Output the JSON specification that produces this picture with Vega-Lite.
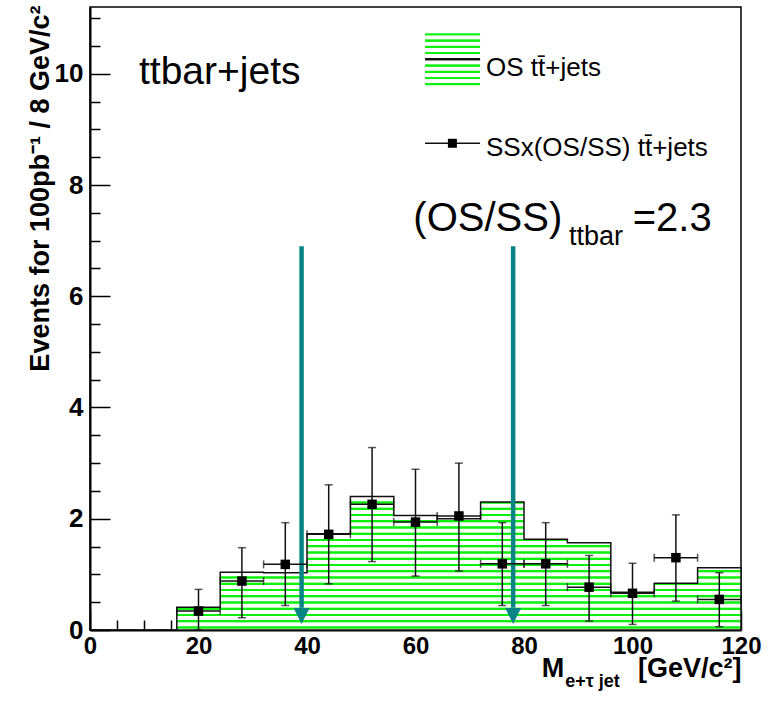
{
  "$schema": "https://vega.github.io/schema/vega-lite/v6.json",
  "width": 651,
  "height": 623,
  "autosize": {"type": "none"},
  "padding": {"left": 90, "top": 7, "right": 32, "bottom": 71},
  "background": "#ffffff",
  "config": {
    "view": {"stroke": "#000000", "strokeWidth": 1.5},
    "text": {"font": "Liberation Sans", "color": "#000000"}
  },
  "datasets": {
    "hist": [
      {"m": 16, "v": 0.41}, {"m": 24, "v": 1.04}, {"m": 32, "v": 1.03}, {"m": 40, "v": 1.73},
      {"m": 48, "v": 2.40}, {"m": 56, "v": 2.06}, {"m": 64, "v": 2.0}, {"m": 72, "v": 2.30},
      {"m": 80, "v": 1.63}, {"m": 88, "v": 1.57}, {"m": 96, "v": 0.68}, {"m": 104, "v": 0.84},
      {"m": 112, "v": 1.12}, {"m": 120, "v": 1.12}
    ],
    "pts": [
      {"m": 20, "xlo": 16, "xhi": 24, "n": 0.34, "lo": 0.0, "hi": 0.73},
      {"m": 28, "xlo": 24, "xhi": 32, "n": 0.88, "lo": 0.22, "hi": 1.48},
      {"m": 36, "xlo": 32, "xhi": 40, "n": 1.18, "lo": 0.44, "hi": 1.93},
      {"m": 44, "xlo": 40, "xhi": 48, "n": 1.72, "lo": 0.83, "hi": 2.61},
      {"m": 52, "xlo": 48, "xhi": 56, "n": 2.26, "lo": 1.23, "hi": 3.28},
      {"m": 60, "xlo": 56, "xhi": 64, "n": 1.94, "lo": 0.97, "hi": 2.89},
      {"m": 68, "xlo": 64, "xhi": 72, "n": 2.05, "lo": 1.06, "hi": 3.0},
      {"m": 76, "xlo": 72, "xhi": 80, "n": 1.19, "lo": 0.44, "hi": 1.93},
      {"m": 84, "xlo": 80, "xhi": 88, "n": 1.19, "lo": 0.44, "hi": 1.93},
      {"m": 92, "xlo": 88, "xhi": 96, "n": 0.77, "lo": 0.16, "hi": 1.34},
      {"m": 100, "xlo": 96, "xhi": 104, "n": 0.66, "lo": 0.10, "hi": 1.20},
      {"m": 108, "xlo": 104, "xhi": 112, "n": 1.30, "lo": 0.52, "hi": 2.07},
      {"m": 116, "xlo": 112, "xhi": 120, "n": 0.55, "lo": 0.06, "hi": 1.03}
    ],
    "arrows": [
      {"m": 39, "top": 6.9},
      {"m": 78, "top": 6.9}
    ]
  },
  "resolve": {"axis": {"x": "independent", "y": "independent"}},
  "layer": [
    {
      "data": {"name": "hist"},
      "mark": {
        "type": "area",
        "interpolate": "step-after",
        "stroke": "#111111",
        "strokeWidth": 1.5,
        "fill": {
          "gradient": "linear", "x1": 0, "y1": 0, "x2": 0, "y2": 1,
          "stops": [
            {"offset": 0, "color": "#ffffff"},
            {"offset": 0.03394, "color": "#ffffff"}, {"offset": 0.03844, "color": "#10f010"}, {"offset": 0.05144, "color": "#10f010"}, {"offset": 0.05594, "color": "#ffffff"},
            {"offset": 0.08076, "color": "#ffffff"}, {"offset": 0.08526, "color": "#10f010"}, {"offset": 0.09826, "color": "#10f010"}, {"offset": 0.10276, "color": "#ffffff"},
            {"offset": 0.12758, "color": "#ffffff"}, {"offset": 0.13208, "color": "#10f010"}, {"offset": 0.14508, "color": "#10f010"}, {"offset": 0.14958, "color": "#ffffff"},
            {"offset": 0.17439, "color": "#ffffff"}, {"offset": 0.17889, "color": "#10f010"}, {"offset": 0.19189, "color": "#10f010"}, {"offset": 0.19639, "color": "#ffffff"},
            {"offset": 0.22121, "color": "#ffffff"}, {"offset": 0.22571, "color": "#10f010"}, {"offset": 0.23871, "color": "#10f010"}, {"offset": 0.24321, "color": "#ffffff"},
            {"offset": 0.26803, "color": "#ffffff"}, {"offset": 0.27253, "color": "#10f010"}, {"offset": 0.28553, "color": "#10f010"}, {"offset": 0.29003, "color": "#ffffff"},
            {"offset": 0.31484, "color": "#ffffff"}, {"offset": 0.31934, "color": "#10f010"}, {"offset": 0.33234, "color": "#10f010"}, {"offset": 0.33684, "color": "#ffffff"},
            {"offset": 0.36166, "color": "#ffffff"}, {"offset": 0.36616, "color": "#10f010"}, {"offset": 0.37916, "color": "#10f010"}, {"offset": 0.38366, "color": "#ffffff"},
            {"offset": 0.40848, "color": "#ffffff"}, {"offset": 0.41298, "color": "#10f010"}, {"offset": 0.42598, "color": "#10f010"}, {"offset": 0.43048, "color": "#ffffff"},
            {"offset": 0.45529, "color": "#ffffff"}, {"offset": 0.45979, "color": "#10f010"}, {"offset": 0.47279, "color": "#10f010"}, {"offset": 0.47729, "color": "#ffffff"},
            {"offset": 0.50211, "color": "#ffffff"}, {"offset": 0.50661, "color": "#10f010"}, {"offset": 0.51961, "color": "#10f010"}, {"offset": 0.52411, "color": "#ffffff"},
            {"offset": 0.54893, "color": "#ffffff"}, {"offset": 0.55343, "color": "#10f010"}, {"offset": 0.56643, "color": "#10f010"}, {"offset": 0.57093, "color": "#ffffff"},
            {"offset": 0.59574, "color": "#ffffff"}, {"offset": 0.60024, "color": "#10f010"}, {"offset": 0.61324, "color": "#10f010"}, {"offset": 0.61774, "color": "#ffffff"},
            {"offset": 0.64256, "color": "#ffffff"}, {"offset": 0.64706, "color": "#10f010"}, {"offset": 0.66006, "color": "#10f010"}, {"offset": 0.66456, "color": "#ffffff"},
            {"offset": 0.68937, "color": "#ffffff"}, {"offset": 0.69387, "color": "#10f010"}, {"offset": 0.70687, "color": "#10f010"}, {"offset": 0.71137, "color": "#ffffff"},
            {"offset": 0.73619, "color": "#ffffff"}, {"offset": 0.74069, "color": "#10f010"}, {"offset": 0.75369, "color": "#10f010"}, {"offset": 0.75819, "color": "#ffffff"},
            {"offset": 0.78301, "color": "#ffffff"}, {"offset": 0.78751, "color": "#10f010"}, {"offset": 0.80051, "color": "#10f010"}, {"offset": 0.80501, "color": "#ffffff"},
            {"offset": 0.82982, "color": "#ffffff"}, {"offset": 0.83432, "color": "#10f010"}, {"offset": 0.84732, "color": "#10f010"}, {"offset": 0.85182, "color": "#ffffff"},
            {"offset": 0.87664, "color": "#ffffff"}, {"offset": 0.88114, "color": "#10f010"}, {"offset": 0.89414, "color": "#10f010"}, {"offset": 0.89864, "color": "#ffffff"},
            {"offset": 0.92346, "color": "#ffffff"}, {"offset": 0.92796, "color": "#10f010"}, {"offset": 0.94096, "color": "#10f010"}, {"offset": 0.94546, "color": "#ffffff"},
            {"offset": 0.97027, "color": "#ffffff"}, {"offset": 0.97477, "color": "#10f010"}, {"offset": 0.98777, "color": "#10f010"}, {"offset": 0.99227, "color": "#ffffff"},
            {"offset": 1, "color": "#ffffff"}
          ]
        }
      },
      "encoding": {
        "x": {
          "field": "m", "type": "quantitative",
          "scale": {"domain": [0, 120], "nice": false, "zero": false},
          "axis": {
            "orient": "bottom", "values": [0, 20, 40, 60, 80, 100, 120], "format": "d",
            "tickSize": -19, "tickWidth": 1.5, "tickColor": "#000000",
            "domainColor": "#000000", "domainWidth": 2,
            "labelFont": "Liberation Sans", "labelFontWeight": "bold", "labelFontSize": 24,
            "labelColor": "#000000", "labelPadding": 23, "labelFlush": false, "labelOverlap": false,
            "grid": false, "title": null
          }
        },
        "y": {
          "field": "v", "type": "quantitative",
          "scale": {"domain": [0, 11.2], "nice": false, "zero": false},
          "axis": {
            "orient": "left", "values": [0, 2, 4, 6, 8, 10], "format": "d",
            "tickSize": -20, "tickWidth": 1.5, "tickColor": "#000000",
            "domainColor": "#000000", "domainWidth": 2,
            "labelFont": "Liberation Sans", "labelFontWeight": "bold", "labelFontSize": 26,
            "labelColor": "#000000", "labelPadding": 27, "labelFlush": false, "labelOverlap": false,
            "grid": false,
            "title": "Events for 100pb⁻¹ / 8 GeV/c²",
            "titleFont": "Liberation Sans", "titleFontWeight": "bold", "titleFontSize": 27,
            "titleColor": "#000000", "titleAngle": 270, "titleAlign": "right",
            "titleBaseline": "alphabetic", "titleX": -42, "titleY": -2
          }
        }
      }
    },
    {
      "data": {"name": "arrows"},
      "mark": {"type": "rule", "color": "#088484", "strokeWidth": 4.5},
      "encoding": {
        "x": {
          "field": "m", "type": "quantitative",
          "axis": {
            "orient": "bottom",
            "values": [5, 10, 15, 25, 30, 35, 45, 50, 55, 65, 70, 75, 85, 90, 95, 105, 110, 115],
            "tickSize": -10, "tickWidth": 1.5, "tickColor": "#000000",
            "labels": false, "domain": false, "grid": false, "title": null
          }
        },
        "y": {
          "field": "top", "type": "quantitative",
          "axis": {
            "orient": "left",
            "values": [0.5, 1, 1.5, 2.5, 3, 3.5, 4.5, 5, 5.5, 6.5, 7, 7.5, 8.5, 9, 9.5, 10.5, 11],
            "tickSize": -10, "tickWidth": 1.5, "tickColor": "#000000",
            "labels": false, "domain": false, "grid": false, "title": null
          }
        },
        "y2": {"datum": 0.4}
      }
    },
    {
      "data": {"name": "arrows"},
      "mark": {"type": "point", "shape": "M-1,-1L1,-1L0,1Z", "filled": true, "color": "#088484", "size": 256, "opacity": 1},
      "encoding": {
        "x": {"field": "m", "type": "quantitative", "axis": null},
        "y": {"datum": 0.25, "type": "quantitative", "axis": null}
      }
    },
    {
      "data": {"name": "pts"},
      "mark": {"type": "rule", "color": "#111111", "strokeWidth": 1.5},
      "encoding": {
        "x": {"field": "m", "type": "quantitative", "axis": null},
        "y": {"field": "lo", "type": "quantitative", "axis": null},
        "y2": {"field": "hi"}
      }
    },
    {
      "data": {"name": "pts"},
      "mark": {"type": "rule", "color": "#111111", "strokeWidth": 1.5},
      "encoding": {
        "x": {"field": "xlo", "type": "quantitative", "axis": null},
        "x2": {"field": "xhi"},
        "y": {"field": "n", "type": "quantitative", "axis": null}
      }
    },
    {
      "data": {"name": "pts"},
      "mark": {"type": "tick", "orient": "horizontal", "color": "#111111", "thickness": 1.5, "size": 8},
      "encoding": {
        "x": {"field": "m", "type": "quantitative", "axis": null},
        "y": {"field": "hi", "type": "quantitative", "axis": null}
      }
    },
    {
      "data": {"name": "pts"},
      "mark": {"type": "tick", "orient": "horizontal", "color": "#111111", "thickness": 1.5, "size": 8},
      "encoding": {
        "x": {"field": "m", "type": "quantitative", "axis": null},
        "y": {"field": "lo", "type": "quantitative", "axis": null}
      }
    },
    {
      "data": {"name": "pts"},
      "mark": {"type": "tick", "orient": "vertical", "color": "#111111", "thickness": 1.5, "size": 8},
      "encoding": {
        "x": {"field": "xlo", "type": "quantitative", "axis": null},
        "y": {"field": "n", "type": "quantitative", "axis": null}
      }
    },
    {
      "data": {"name": "pts"},
      "mark": {"type": "tick", "orient": "vertical", "color": "#111111", "thickness": 1.5, "size": 8},
      "encoding": {
        "x": {"field": "xhi", "type": "quantitative", "axis": null},
        "y": {"field": "n", "type": "quantitative", "axis": null}
      }
    },
    {
      "data": {"name": "pts"},
      "mark": {"type": "point", "shape": "square", "filled": true, "color": "#000000", "size": 90, "opacity": 1},
      "encoding": {
        "x": {"field": "m", "type": "quantitative", "axis": null},
        "y": {"field": "n", "type": "quantitative", "axis": null}
      }
    },
    {
      "data": {"values": [{}]},
      "mark": {
        "type": "rect",
        "fill": {
          "gradient": "linear", "x1": 0, "y1": 0, "x2": 0, "y2": 1,
          "stops": [
            {"offset": 0, "color": "#10f010"}, {"offset": 0.0362, "color": "#10f010"}, {"offset": 0.0472, "color": "#ffffff"},
            {"offset": 0.1114, "color": "#ffffff"}, {"offset": 0.1224, "color": "#10f010"}, {"offset": 0.1564, "color": "#10f010"}, {"offset": 0.1674, "color": "#ffffff"},
            {"offset": 0.2316, "color": "#ffffff"}, {"offset": 0.2426, "color": "#10f010"}, {"offset": 0.2766, "color": "#10f010"}, {"offset": 0.2876, "color": "#ffffff"},
            {"offset": 0.3518, "color": "#ffffff"}, {"offset": 0.3628, "color": "#10f010"}, {"offset": 0.3968, "color": "#10f010"}, {"offset": 0.4078, "color": "#ffffff"},
            {"offset": 0.472, "color": "#ffffff"}, {"offset": 0.483, "color": "#111111"}, {"offset": 0.517, "color": "#111111"}, {"offset": 0.528, "color": "#ffffff"},
            {"offset": 0.5922, "color": "#ffffff"}, {"offset": 0.6032, "color": "#10f010"}, {"offset": 0.6372, "color": "#10f010"}, {"offset": 0.6482, "color": "#ffffff"},
            {"offset": 0.7124, "color": "#ffffff"}, {"offset": 0.7234, "color": "#10f010"}, {"offset": 0.7574, "color": "#10f010"}, {"offset": 0.7684, "color": "#ffffff"},
            {"offset": 0.8326, "color": "#ffffff"}, {"offset": 0.8436, "color": "#10f010"}, {"offset": 0.8776, "color": "#10f010"}, {"offset": 0.8886, "color": "#ffffff"},
            {"offset": 0.9528, "color": "#ffffff"}, {"offset": 0.9638, "color": "#10f010"}, {"offset": 1, "color": "#10f010"}
          ]
        }
      },
      "encoding": {
        "x": {"datum": 61.75, "type": "quantitative", "axis": null},
        "x2": {"datum": 71.9},
        "y": {"datum": 10.727, "type": "quantitative", "axis": null},
        "y2": {"datum": 9.792}
      }
    },
    {
      "data": {"values": [{}]},
      "mark": {"type": "rule", "color": "#111111", "strokeWidth": 1.5},
      "encoding": {
        "x": {"datum": 61.75, "type": "quantitative", "axis": null},
        "x2": {"datum": 71.9},
        "y": {"datum": 8.75, "type": "quantitative", "axis": null}
      }
    },
    {
      "data": {"values": [{}]},
      "mark": {"type": "point", "shape": "square", "filled": true, "color": "#000000", "size": 81, "opacity": 1},
      "encoding": {
        "x": {"datum": 66.8, "type": "quantitative", "axis": null},
        "y": {"datum": 8.75, "type": "quantitative", "axis": null}
      }
    },
    {
      "data": {"values": [{}]},
      "mark": {"type": "text", "text": "OS tt̄+jets", "fontSize": 26, "align": "left", "baseline": "alphabetic"},
      "encoding": {
        "x": {"datum": 73.0, "type": "quantitative", "axis": null},
        "y": {"datum": 9.96, "type": "quantitative", "axis": null}
      }
    },
    {
      "data": {"values": [{}]},
      "mark": {"type": "text", "text": "SSx(OS/SS) tt̄+jets", "fontSize": 26, "align": "left", "baseline": "alphabetic"},
      "encoding": {
        "x": {"datum": 73.0, "type": "quantitative", "axis": null},
        "y": {"datum": 8.53, "type": "quantitative", "axis": null}
      }
    },
    {
      "data": {"values": [{}]},
      "mark": {"type": "text", "text": "ttbar+jets", "fontSize": 39, "align": "left", "baseline": "alphabetic"},
      "encoding": {
        "x": {"datum": 9.03, "type": "quantitative", "axis": null},
        "y": {"datum": 9.81, "type": "quantitative", "axis": null}
      }
    },
    {
      "data": {"values": [{}]},
      "mark": {"type": "text", "text": "(OS/SS)", "fontSize": 40, "align": "left", "baseline": "alphabetic"},
      "encoding": {
        "x": {"datum": 59.6, "type": "quantitative", "axis": null},
        "y": {"datum": 7.17, "type": "quantitative", "axis": null}
      }
    },
    {
      "data": {"values": [{}]},
      "mark": {"type": "text", "text": "ttbar", "fontSize": 27, "align": "left", "baseline": "alphabetic"},
      "encoding": {
        "x": {"datum": 88.3, "type": "quantitative", "axis": null},
        "y": {"datum": 6.92, "type": "quantitative", "axis": null}
      }
    },
    {
      "data": {"values": [{}]},
      "mark": {"type": "text", "text": "=2.3", "fontSize": 40, "align": "right", "baseline": "alphabetic"},
      "encoding": {
        "x": {"datum": 114.6, "type": "quantitative", "axis": null},
        "y": {"datum": 7.17, "type": "quantitative", "axis": null}
      }
    },
    {
      "data": {"values": [{}]},
      "mark": {"type": "text", "text": "M", "fontSize": 27, "fontWeight": "bold", "align": "left", "baseline": "alphabetic"},
      "encoding": {
        "x": {"datum": 83.26, "type": "quantitative", "axis": null},
        "y": {"datum": -0.85, "type": "quantitative", "axis": null}
      }
    },
    {
      "data": {"values": [{}]},
      "mark": {"type": "text", "text": "e+τ jet", "fontSize": 18, "fontWeight": "bold", "align": "left", "baseline": "alphabetic"},
      "encoding": {
        "x": {"datum": 87.6, "type": "quantitative", "axis": null},
        "y": {"datum": -1.02, "type": "quantitative", "axis": null}
      }
    },
    {
      "data": {"values": [{}]},
      "mark": {"type": "text", "text": "[GeV/c²]", "fontSize": 27, "fontWeight": "bold", "align": "right", "baseline": "alphabetic"},
      "encoding": {
        "x": {"datum": 120.1, "type": "quantitative", "axis": null},
        "y": {"datum": -0.85, "type": "quantitative", "axis": null}
      }
    }
  ]
}
